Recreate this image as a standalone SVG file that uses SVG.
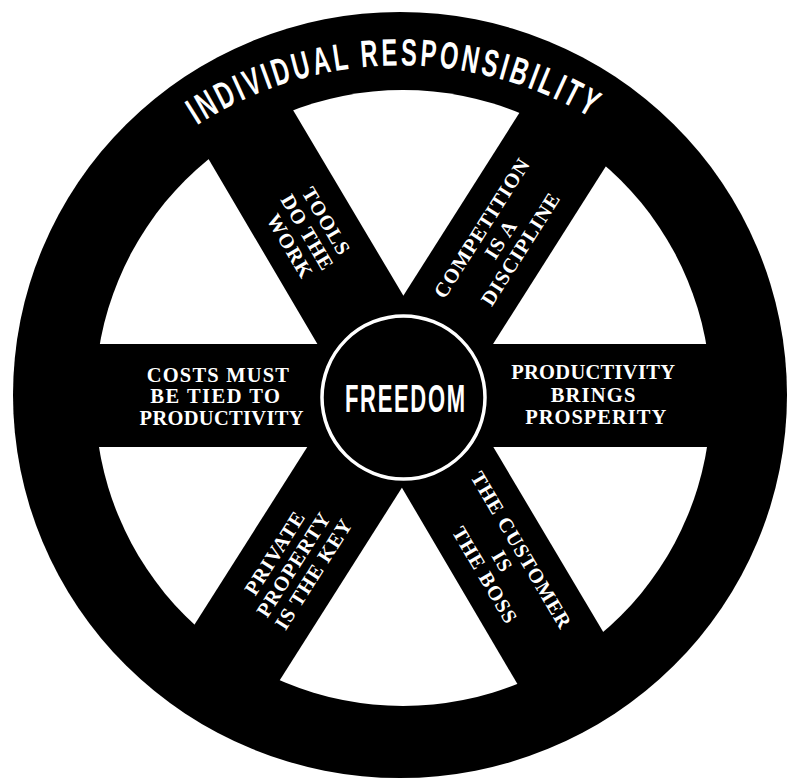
<svg xmlns="http://www.w3.org/2000/svg" width="790" height="782" viewBox="0 0 790 782">
  <style>
    .ink { fill: #000; }
    .paper { fill: #fff; }
    .rimlabel { fill: #fff; font-family: "Liberation Sans Narrow", "Liberation Sans", Arial, sans-serif; font-weight: bold; font-size: 38px; letter-spacing: 5px; }
    .hublabel { fill: #fff; font-family: "Liberation Sans", Arial, sans-serif; font-weight: bold; font-size: 39.5px; letter-spacing: 3px; text-anchor: middle; }
    .spoke { fill: #fff; font-family: "Liberation Serif", "Times New Roman", serif; font-weight: bold; font-size: 20.5px; text-anchor: middle; }
    .mid { letter-spacing: 1px; }
  </style>
  <defs>
    <path id="rimArc" d="M197.1,125.2 A374.5,374.5 0 0 1 590.1,117.3"/>
  </defs>

  <rect width="790" height="782" class="paper"/>

  <!-- rim of the wheel -->
  <g id="rim">
    <ellipse cx="400" cy="395" rx="387" ry="383" class="ink"/>
    <circle cx="403" cy="398" r="308" class="paper"/>
  </g>

  <!-- spokes joining hub and rim -->
  <g id="connectors" class="ink">
    <rect x="60" y="344" width="685" height="103"/>
    <polygon points="185.6,120 272.2,75 628.8,675 538.6,720"/>
    <polygon points="540.3,80 628.9,130 254.5,720 172,660"/>
  </g>

  <!-- rim label -->
  <g id="individual-responsibility">
    <text class="rimlabel"><textPath href="#rimArc" textLength="417" lengthAdjust="spacingAndGlyphs">INDIVIDUAL RESPONSIBILITY</textPath></text>
  </g>

  <!-- hub: condensed lettering by horizontal scaling -->
  <g id="freedom">
    <circle cx="403.5" cy="397.5" r="81.5" fill="#000" stroke="#fff" stroke-width="3.5"/>
    <text class="hublabel" transform="translate(405,411.5) scale(0.557,1)" x="1.5" y="0">FREEDOM</text>
  </g>

  <!-- horizontal spoke labels -->
  <g id="costs-productivity">
    <text class="spoke">
      <tspan x="221" y="381.7" letter-spacing="1.2">COSTS MUST</tspan>
      <tspan x="218.5" y="403.3" letter-spacing="1.5">BE TIED TO</tspan>
      <tspan x="221.7" y="425" letter-spacing="0.3">PRODUCTIVITY</tspan>
    </text>
  </g>

  <g id="productivity-prosperity">
    <text class="spoke">
      <tspan x="595.8" y="379" letter-spacing="0.3">PRODUCTIVITY</tspan>
      <tspan x="596.2" y="401.5" letter-spacing="1.2">BRINGS</tspan>
      <tspan x="596.2" y="423.5" letter-spacing="1">PROSPERITY</tspan>
    </text>
  </g>

  <!-- diagonal spoke labels -->
  <g id="tools-work" transform="translate(309,235) rotate(59.5)">
    <text class="spoke mid">
      <tspan x="0" y="-15">TOOLS</tspan>
      <tspan x="0" y="7">DO THE</tspan>
      <tspan x="0" y="29">WORK</tspan>
    </text>
  </g>

  <g id="customer-boss" transform="translate(504,564) rotate(59.5)">
    <text class="spoke mid">
      <tspan x="0" y="-15">THE CUSTOMER</tspan>
      <tspan x="0" y="7">IS</tspan>
      <tspan x="0" y="29">THE BOSS</tspan>
    </text>
  </g>

  <g id="competition-discipline" transform="translate(502,237) rotate(-57.6)">
    <text class="spoke mid">
      <tspan x="0" y="-15">COMPETITION</tspan>
      <tspan x="0" y="7">IS A</tspan>
      <tspan x="0" y="29">DISCIPLINE</tspan>
    </text>
  </g>

  <g id="private-property" transform="translate(295,562) rotate(-57.6)">
    <text class="spoke mid">
      <tspan x="0" y="-15">PRIVATE</tspan>
      <tspan x="0" y="7">PROPERTY</tspan>
      <tspan x="0" y="29">IS THE KEY</tspan>
    </text>
  </g>
</svg>
